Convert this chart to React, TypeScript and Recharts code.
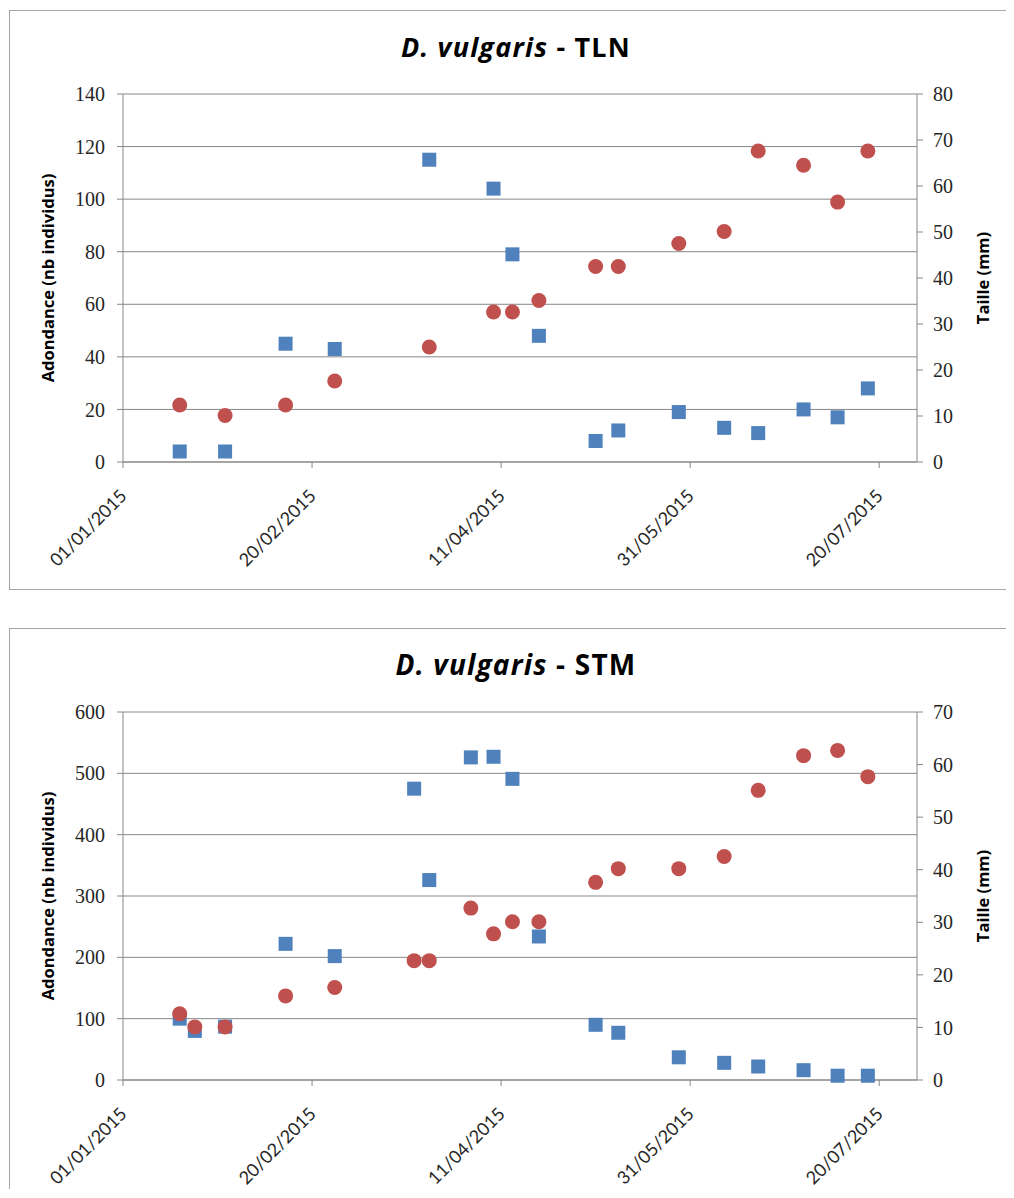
import React from 'react';
import { ScatterChart, Scatter, XAxis, YAxis, CartesianGrid } from 'recharts';

// ---- Data ----
const tlnDates = ['2015-01-16', '2015-01-28', '2015-02-13', '2015-02-26', '2015-03-23', '2015-04-09', '2015-04-14', '2015-04-21', '2015-05-06', '2015-05-12', '2015-05-28', '2015-06-09', '2015-06-18', '2015-06-30', '2015-07-09', '2015-07-17'];
const tlnAbondance = [4, 4, 45, 43, 115, 104, 79, 48, 8, 12, 19, 13, 11, 20, 17, 28];
const tlnTaille = [12.4, 10.1, 12.4, 17.6, 25, 32.6, 32.6, 35.1, 42.5, 42.5, 47.5, 50.1, 67.6, 64.5, 56.5, 67.6];

const stmDates = ['2015-01-16', '2015-01-20', '2015-01-28', '2015-02-13', '2015-02-26', '2015-03-19', '2015-03-23', '2015-04-03', '2015-04-09', '2015-04-14', '2015-04-21', '2015-05-06', '2015-05-12', '2015-05-28', '2015-06-09', '2015-06-18', '2015-06-30', '2015-07-09', '2015-07-17'];
const stmAbondance = [100, 80, 87, 222, 202, 475, 326, 526, 527, 491, 234, 90, 77, 37, 28, 22, 16, 7, 7];
const stmTaille = [12.6, 10.1, 10.1, 16, 17.6, 22.7, 22.7, 32.7, 27.8, 30.1, 30.1, 37.6, 40.2, 40.2, 42.5, 55.1, 61.7, 62.7, 57.7];

const xTicks = [0, 50, 100, 150, 200]; // days since 01/01/2015
const xDomain = [0, 210];
const tlnLeftTicks = [0, 20, 40, 60, 80, 100, 120, 140];
const tlnRightTicks = [0, 10, 20, 30, 40, 50, 60, 70, 80];
const stmLeftTicks = [0, 100, 200, 300, 400, 500, 600];
const stmRightTicks = [0, 10, 20, 30, 40, 50, 60, 70];

const ORIGIN = Date.UTC(2015, 0, 1);
const DAY = 86400000;
const toDay = (s: string) => {
  const [y, m, d] = s.split('-').map(Number);
  return Math.round((Date.UTC(y, m - 1, d) - ORIGIN) / DAY);
};
const fmtDay = (v: number) => {
  const dt = new Date(ORIGIN + v * DAY);
  const dd = String(dt.getUTCDate()).padStart(2, '0');
  const mm = String(dt.getUTCMonth() + 1).padStart(2, '0');
  return `${dd}/${mm}/${dt.getUTCFullYear()}`;
};

const BLUE = '#4f81bd';
const RED = '#c0504d';
const AXIS = '#878787';
const TEXT = '#262626';

const Square = (p: any) => <rect x={p.cx - 7} y={p.cy - 7} width={14} height={14} fill={BLUE} />;
const Dot = (p: any) => <circle cx={p.cx} cy={p.cy} r={7.5} fill={RED} />;

const DateTick = (p: any) => {
  const x = p.x + 5;
  const y = p.y + 27;
  return (
    <text x={x} y={y} textAnchor="end" transform={`rotate(-45, ${x}, ${y})`} fontFamily="Lato" fontSize={18} fill={TEXT}>
      {fmtDay(p.payload.value)}
    </text>
  );
};

const W = 1002;

function Panel(props: {
  site: string; dates: string[]; abond: number[]; taille: number[];
  leftTicks: number[]; rightTicks: number[]; titleSize: number; marginTop: number;
  height: number; bottomBorder: boolean;
}) {
  const { site, dates, abond, taille, leftTicks, rightTicks, titleSize, marginTop, height, bottomBorder } = props;
  const abondData = dates.map((d, i) => ({ x: toDay(d), y: abond[i] }));
  const tailleData = dates.map((d, i) => ({ x: toDay(d), y: taille[i] }));
  const tickStyle = { fontFamily: '"Liberation Serif"', fontSize: 20, fill: TEXT };
  const labelFont = '"Open Sans"';
  return (
    <div style={{
      position: 'relative', width: W, height, border: '1px solid #a6a6a6',
      borderBottom: bottomBorder ? '1px solid #a6a6a6' : 'none', marginLeft: 1, marginTop, background: '#fff',
    }}>
      <ScatterChart width={W} height={height} margin={{ top: 83, right: 35, bottom: height - 451 - 100, left: 53 }}>
        <CartesianGrid vertical={false} stroke={AXIS} yAxisId="left" />
        <XAxis type="number" dataKey="x" domain={xDomain} ticks={xTicks} interval={0} allowDataOverflow
          height={100} tick={<DateTick />} tickSize={6} tickLine={{ stroke: AXIS }} axisLine={{ stroke: AXIS }} />
        <YAxis yAxisId="left" type="number" dataKey="y" domain={[leftTicks[0], leftTicks[leftTicks.length - 1]]}
          ticks={leftTicks} interval={0} width={60} tickSize={6} tickMargin={12} tick={tickStyle}
          tickLine={{ stroke: AXIS }} axisLine={{ stroke: AXIS }} />
        <YAxis yAxisId="right" orientation="right" type="number" dataKey="y" domain={[rightTicks[0], rightTicks[rightTicks.length - 1]]}
          ticks={rightTicks} interval={0} width={60} tickSize={6} tickMargin={10} tick={tickStyle}
          tickLine={{ stroke: AXIS }} axisLine={{ stroke: AXIS }} />
        <Scatter name="Adondance" data={abondData} yAxisId="left" shape={Square} isAnimationActive={false} />
        <Scatter name="Taille" data={tailleData} yAxisId="right" shape={Dot} isAnimationActive={false} />
      </ScatterChart>
      <svg width={W} height={height} style={{ position: 'absolute', left: 0, top: 0, pointerEvents: 'none' }}>
        <text x={506} y={46} textAnchor="middle" fontFamily={labelFont} fontWeight="bold" fontSize={titleSize}
          letterSpacing={1.2} fill="#000">
          <tspan fontStyle="italic">D. vulgaris</tspan> - {site}
        </text>
        <text x={37} y={267} textAnchor="middle" dominantBaseline="central" transform="rotate(-90, 37, 267)"
          fontFamily={labelFont} fontWeight="bold" fontSize={16.5} fill="#000">Adondance (nb individus)</text>
        <text x={972} y={267} textAnchor="middle" dominantBaseline="central" transform="rotate(-90, 972, 267)"
          fontFamily={labelFont} fontWeight="bold" fontSize={16.5} fill="#000">Taille (mm)</text>
      </svg>
    </div>
  );
}

export default function App() {
  return (
    <div style={{ paddingTop: 2 }}>
      <Panel site="TLN" dates={tlnDates} abond={tlnAbondance} taille={tlnTaille}
        leftTicks={tlnLeftTicks} rightTicks={tlnRightTicks} titleSize={27} marginTop={0}
        height={578} bottomBorder={true} />
      <Panel site="STM" dates={stmDates} abond={stmAbondance} taille={stmTaille}
        leftTicks={stmLeftTicks} rightTicks={stmRightTicks} titleSize={28} marginTop={38}
        height={560} bottomBorder={false} />
    </div>
  );
}
